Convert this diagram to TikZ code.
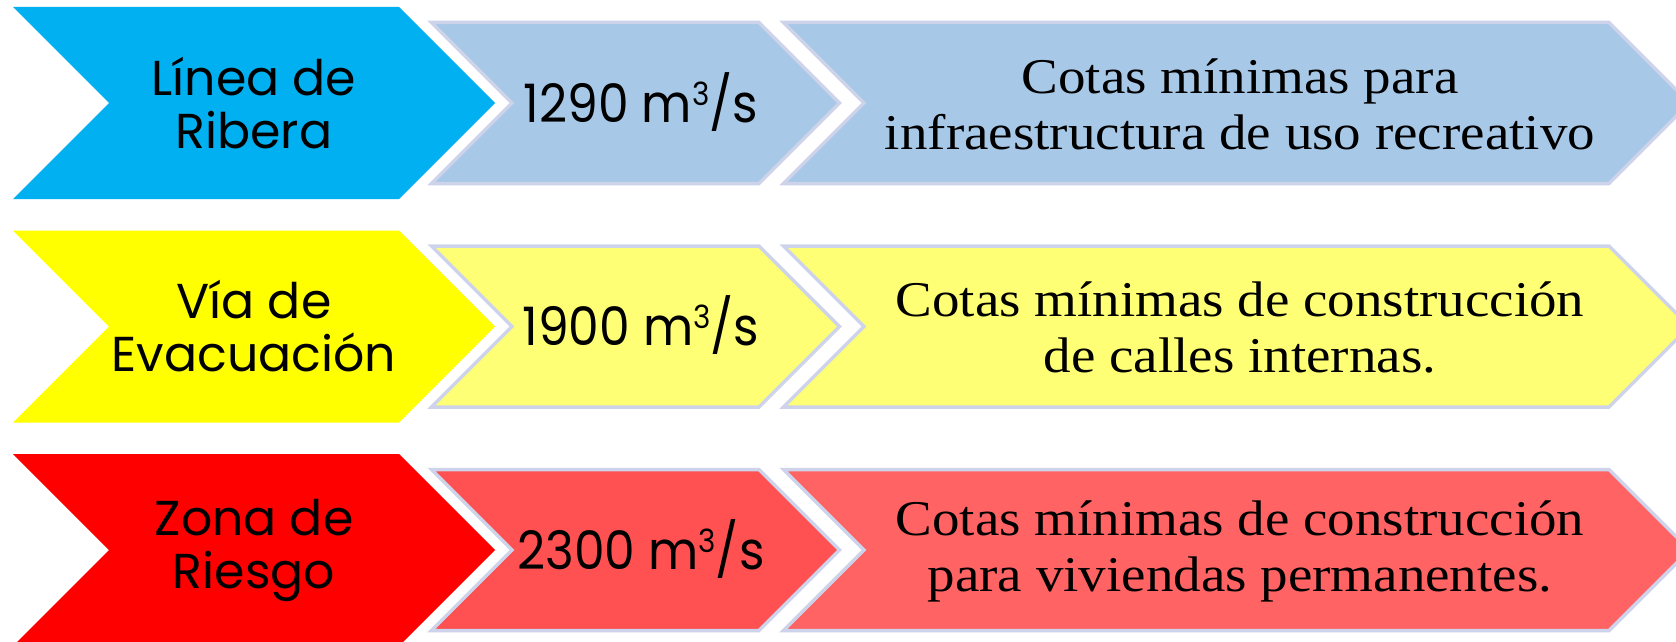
\documentclass[tikz,border=0pt]{standalone}
\usepackage{fontspec}
\setmainfont{Liberation Serif}
\newfontfamily\gothic{Poppins}
\newfontfamily\gothicn[FakeStretch=0.92]{Poppins}
\newfontfamily\cambr[FakeStretch=1.1]{Liberation Serif}
\definecolor{cyanA}{HTML}{00B0F0}
\definecolor{blueB}{HTML}{A7C8E6}
\definecolor{yellowA}{HTML}{FFFF00}
\definecolor{yellowB}{HTML}{FFFF75}
\definecolor{redA}{HTML}{FF0000}
\definecolor{redB}{HTML}{FF5151}
\definecolor{redC}{HTML}{FF6363}
\definecolor{rim}{HTML}{CDD3EA}
\newcommand\chevron[5]{% style, left x, right corner x, centre y, half height
  \path[#1] (#2,#4-#5) -- (#3,#4-#5) -- (#3+#5,#4) -- (#3,#4+#5) -- (#2,#4+#5) -- (#2+#5,#4) -- cycle;}
\newcommand\cubic{\raisebox{17pt}{\fontsize{32}{32}\selectfont 3}}
\tikzset{
  follow/.style={draw=rim, line width=3.5pt, line join=miter},
  labA/.style={align=center, inner sep=0pt, font=\gothic\fontsize{49}{53}\selectfont},
  labB/.style={align=center, inner sep=0pt, font=\gothicn\fontsize{53}{56}\selectfont},
  labC/.style={align=center, inner sep=0pt, font=\cambr\fontsize{50}{56}\selectfont},
}
\begin{document}
\begin{tikzpicture}[x=1pt,y=-1pt]
\useasboundingbox (0,0) rectangle (1676,642);
\clip (0,0) rectangle (1676,642);
% row 1
\chevron{fill=cyanA}{13}{399}{103}{96}
\chevron{follow, fill=blueB}{431.5}{759}{103}{80.5}
\chevron{follow, fill=blueB}{783.5}{1609}{103}{80.5}
\node[labA] (a1) at (254,103) {Línea de\\Ribera};
\node[labB] (b1) at (641,102) {1290 m\cubic/s};
\node[labC] (c1) at (1240,104) {Cotas mínimas para\\infraestructura de uso recreativo};
% row 2
\chevron{fill=yellowA}{13}{399}{326.5}{96}
\chevron{follow, fill=yellowB}{431.5}{759}{326.5}{80.5}
\chevron{follow, fill=yellowB}{783.5}{1609}{326.5}{80.5}
\node[labA] (a2) at (254,326.5) {Vía de\\Evacuación};
\node[labB] (b2) at (641,325.5) {1900 m\cubic/s};
\node[labC] (c2) at (1240,327.5) {Cotas mínimas de construcción\\de calles internas.};
% row 3
\chevron{fill=redA}{13}{399}{550}{96}
\chevron{follow, fill=redB}{431.5}{759}{550}{80.5}
\chevron{follow, fill=redC}{783.5}{1609}{550}{80.5}
\node[labA] (a3) at (254,550) {Zona de\\Riesgo};
\node[labB] (b3) at (641,549) {2300 m\cubic/s};
\node[labC] (c3) at (1240,551) {Cotas mínimas de construcción\\para viviendas permanentes.};
\end{tikzpicture}
\end{document}
